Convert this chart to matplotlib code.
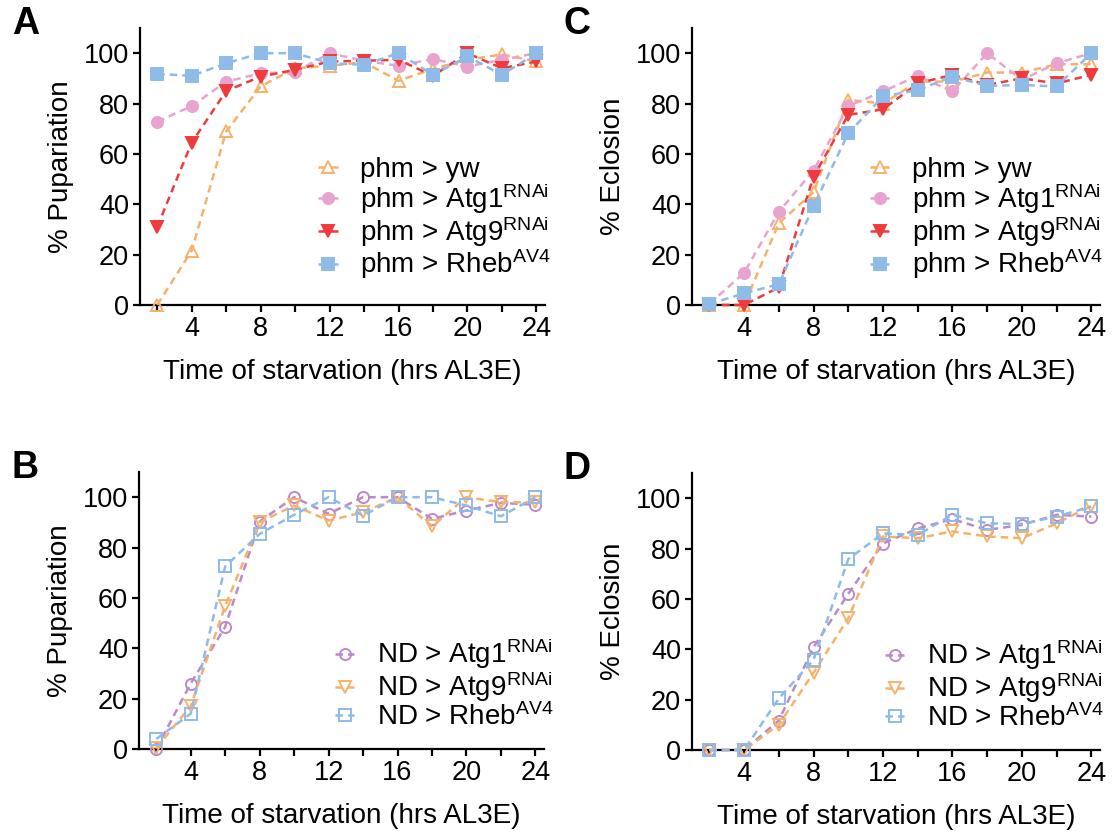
import numpy as np
import matplotlib
matplotlib.use("Agg")
import matplotlib.pyplot as plt

# ── style ────────────────────────────────────────────────────────────────────
plt.rcParams.update({
    "font.family": ["Liberation Sans", "DejaVu Sans"],
    "mathtext.fontset": "custom",
    "mathtext.rm": "Liberation Sans",
    "mathtext.it": "Liberation Sans:italic",
    "mathtext.bf": "Liberation Sans:bold",
    "axes.linewidth": 1.6,
    "xtick.major.width": 1.6,
    "ytick.major.width": 1.6,
    "xtick.major.size": 5,
    "ytick.major.size": 5,
    "xtick.labelsize": 19.5,
    "ytick.labelsize": 19.5,
    "axes.labelsize": 20,
})

ORANGE = "#f5b26b"
PINK = "#e9a3cf"
RED = "#ef3b3e"
BLUE = "#8fbbe8"
PURPLE = "#bb8ac9"

# ── data ─────────────────────────────────────────────────────────────────────
hours = [2, 4, 6, 8, 10, 12, 14, 16, 18, 20, 22, 24]

# A: pupariation, phm
a_yw    = [0, 21.6, 68.9, 86.8, 94, 95, 96.4, 89, 93.8, 97.4, 99.5, 96.7]
a_atg1  = [72.8, 79, 88.7, 92, 92.5, 100, 97, 95, 97.7, 94.7, 97.4, 100]
a_atg9  = [31, 64.5, 85, 90.7, 93.4, 96.7, 97, 97.4, 91, 100, 94, 96.7]
a_rheb  = [91.8, 91, 96, 100, 100, 96, 95.4, 100, 91.4, 98.7, 91.4, 100]

# C: eclosion, phm
c_yw    = [0, 0, 32.5, 44.8, 81.5, 80, 88.7, 88.7, 92.3, 92.3, 95.6, 95.6]
c_atg1  = [0.4, 12.8, 37, 53.4, 79, 84.8, 91, 84.8, 100, 89.4, 96, 100]
c_atg9  = [0, 0, 7, 51, 75.5, 77.7, 88, 91.4, 87.4, 90, 88, 91.4]
c_rheb  = [0.4, 4.6, 8.3, 39.3, 68.2, 82.8, 85.4, 90.7, 87, 87.4, 86.8, 100]

# B: pupariation, ND
b_atg1  = [0, 26, 48.5, 90.3, 100, 93.4, 100, 100, 91.4, 94.7, 97.7, 97]
b_atg9  = [0.4, 17, 56.8, 90, 96.7, 90.7, 94, 100, 88.4, 100, 98, 98]
b_rheb  = [4, 14, 72.5, 85.4, 93, 100, 92.7, 100, 100, 96.7, 92.4, 100]

# D: eclosion, ND
d_atg1  = [0, 0, 11.7, 40.8, 62, 82, 88, 91.7, 87.4, 89.4, 93.4, 92.7]
d_atg9  = [0, 0, 10, 30.7, 52.3, 84.8, 84.1, 86.8, 84.8, 84.1, 90, 97]
d_rheb  = [0, 0, 20.5, 35.8, 75.8, 86, 85.4, 93.4, 90, 89.8, 92.7, 96.7]

XTICKS = [4, 8, 12, 16, 20, 24]
YTICKS = [0, 20, 40, 60, 80, 100]
XLABEL = "Time of starvation (hrs AL3E)"

# (label, values, color, marker, filled)
PANEL_A = [
    ("phm > yw", a_yw, ORANGE, "^", False),
    ("phm > Atg1$^{\\mathrm{RNAi}}$", a_atg1, PINK, "o", True),
    ("phm > Atg9$^{\\mathrm{RNAi}}$", a_atg9, RED, "v", True),
    ("phm > Rheb$^{\\mathrm{AV4}}$", a_rheb, BLUE, "s", True),
]
PANEL_C = [
    ("phm > yw", c_yw, ORANGE, "^", False),
    ("phm > Atg1$^{\\mathrm{RNAi}}$", c_atg1, PINK, "o", True),
    ("phm > Atg9$^{\\mathrm{RNAi}}$", c_atg9, RED, "v", True),
    ("phm > Rheb$^{\\mathrm{AV4}}$", c_rheb, BLUE, "s", True),
]
PANEL_B = [
    ("ND > Atg1$^{\\mathrm{RNAi}}$", b_atg1, PURPLE, "o", False),
    ("ND > Atg9$^{\\mathrm{RNAi}}$", b_atg9, ORANGE, "v", False),
    ("ND > Rheb$^{\\mathrm{AV4}}$", b_rheb, BLUE, "s", False),
]
PANEL_D = [
    ("ND > Atg1$^{\\mathrm{RNAi}}$", d_atg1, PURPLE, "o", False),
    ("ND > Atg9$^{\\mathrm{RNAi}}$", d_atg9, ORANGE, "v", False),
    ("ND > Rheb$^{\\mathrm{AV4}}$", d_rheb, BLUE, "s", False),
]


def draw_panel(ax, series, ylabel, letter, leg_anchor):
    for label, vals, col, mk, filled in series:
        ax.plot(hours, vals, color=col, linestyle=(0, (3, 2)), linewidth=1.8,
                marker=mk, markersize=8, markeredgewidth=1.4,
                markerfacecolor=col if filled else "none",
                markeredgecolor=col, label=label, clip_on=False, zorder=3)
    ax.set_xlim(1, 24.5)
    ax.set_ylim(0, 110)
    ax.set_xticks(hours)
    ax.set_xticklabels([str(h) if h in XTICKS else "" for h in hours])
    ax.set_yticks(YTICKS)
    ax.tick_params(pad=3)
    ax.spines["top"].set_visible(False)
    ax.spines["right"].set_visible(False)
    ax.set_xlabel(XLABEL, labelpad=12)
    ax.set_ylabel(ylabel, labelpad=7)
    ax.legend(loc="upper left", bbox_to_anchor=leg_anchor, frameon=False,
              fontsize=20, handlelength=0.7, handletextpad=0.8,
              labelspacing=-0.05, borderaxespad=0, borderpad=0)
    ax.text(-0.315, 1.015, letter, transform=ax.transAxes, fontsize=27,
            fontweight="bold", ha="left", va="center")


fig = plt.figure(figsize=(11.14, 8.32), dpi=100)
W, H = 1114, 832
ax_a = fig.add_axes([140 / W, 1 - 305 / H, 405 / W, 277 / H])
ax_c = fig.add_axes([692 / W, 1 - 305 / H, 408 / W, 277 / H])
ax_b = fig.add_axes([139 / W, 1 - 749 / H, 405 / W, 277 / H])
ax_d = fig.add_axes([692 / W, 1 - 750 / H, 408 / W, 277 / H])

draw_panel(ax_a, PANEL_A, "% Pupariation", "A", (0.44, 0.535))
draw_panel(ax_c, PANEL_C, "% Eclosion", "C", (0.436, 0.535))
draw_panel(ax_b, PANEL_B, "% Pupariation", "B", (0.484, 0.405))
draw_panel(ax_d, PANEL_D, "% Eclosion", "D", (0.473, 0.405))

fig.savefig("out.png", dpi=100)
